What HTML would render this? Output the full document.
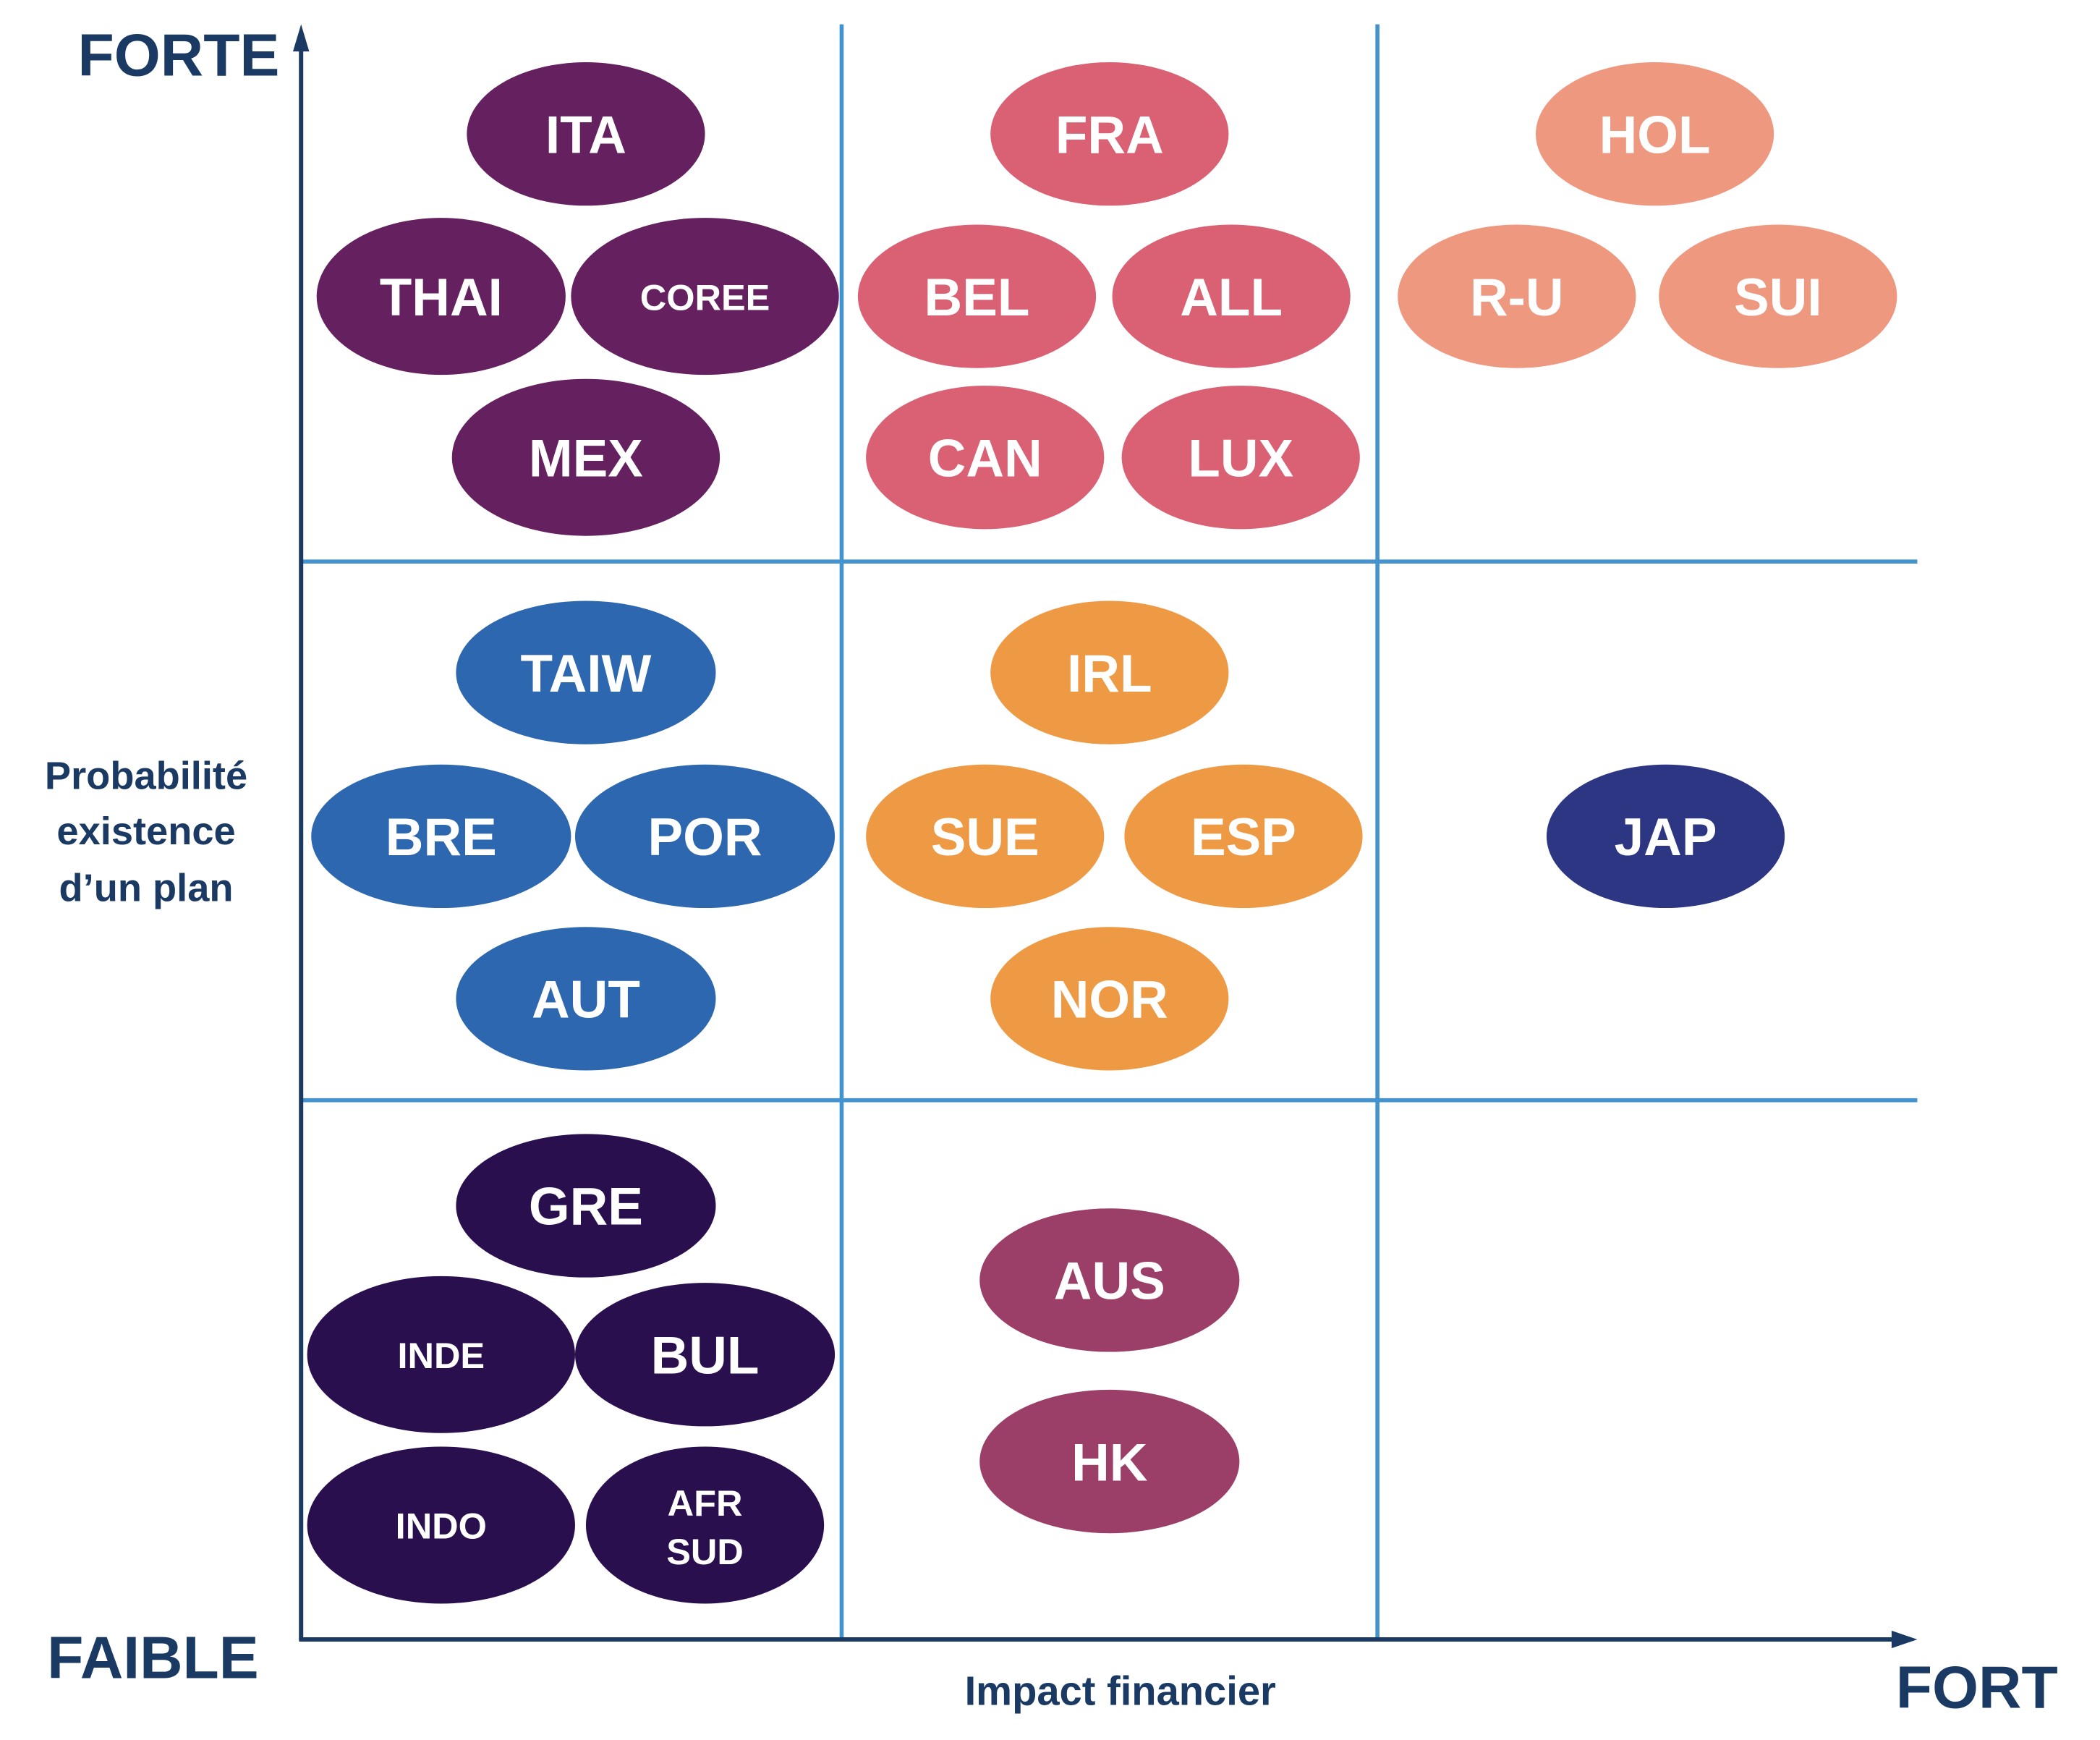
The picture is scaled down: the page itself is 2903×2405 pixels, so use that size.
<!DOCTYPE html>
<html><head><meta charset="utf-8"><style>
html,body{margin:0;padding:0;background:#fff;}
svg{display:block;}
text{font-family:"Liberation Sans",Arial,sans-serif;}
.w{fill:#fff;font-weight:bold;text-anchor:middle;}
.b{font-size:39px;}
.s{font-size:27px;}
.n{fill:#1a3a63;}
</style></head><body>
<svg width="2903" height="2405" viewBox="0 0 1552 1285.8" xmlns="http://www.w3.org/2000/svg">
<g stroke="#4393cf" stroke-width="3">
<line x1="622" y1="18" x2="622" y2="1212"/>
<line x1="1018" y1="18" x2="1018" y2="1212"/>
<line x1="223" y1="415" x2="1417" y2="415"/>
<line x1="223" y1="813" x2="1417" y2="813"/>
</g>
<g stroke="#1a3a63" stroke-width="3.2">
<line x1="222.5" y1="28" x2="222.5" y2="1212"/>
<line x1="221" y1="1211.5" x2="1406" y2="1211.5"/>
</g>
<polygon points="222.5,18 216.5,38 228.5,38" fill="#1a3a63"/>
<polygon points="1417,1211.5 1398,1205 1398,1218" fill="#1a3a63"/>
<text class="n" x="132" y="56" font-size="44" font-weight="bold" text-anchor="middle">FORTE</text>
<text class="n" x="113" y="1240" font-size="44" font-weight="bold" text-anchor="middle">FAIBLE</text>
<text class="n" x="1461" y="1262" font-size="44" font-weight="bold" text-anchor="middle">FORT</text>
<text class="n" x="828" y="1260" font-size="30" font-weight="bold" text-anchor="middle">Impact financier</text>
<g class="n" font-size="29" font-weight="bold" text-anchor="middle">
<text x="108" y="583">Probabilité</text>
<text x="108" y="624">existence</text>
<text x="108" y="666">d’un plan</text>
</g>
<g fill="#65205f">
<ellipse cx="433" cy="99" rx="88" ry="53"/>
<ellipse cx="326" cy="219" rx="92" ry="58"/>
<ellipse cx="521" cy="219" rx="99" ry="58"/>
<ellipse cx="433" cy="338" rx="99" ry="58"/>
</g>
<g fill="#d96173">
<ellipse cx="820" cy="99" rx="88" ry="53"/>
<ellipse cx="722" cy="219" rx="88" ry="53"/>
<ellipse cx="910" cy="219" rx="88" ry="53"/>
<ellipse cx="728" cy="338" rx="88" ry="53"/>
<ellipse cx="917" cy="338" rx="88" ry="53"/>
</g>
<g fill="#ee9880">
<ellipse cx="1223" cy="99" rx="88" ry="53"/>
<ellipse cx="1121" cy="219" rx="88" ry="53"/>
<ellipse cx="1314" cy="219" rx="88" ry="53"/>
</g>
<g fill="#2d67b0">
<ellipse cx="433" cy="497" rx="96" ry="53"/>
<ellipse cx="326" cy="618" rx="96" ry="53"/>
<ellipse cx="521" cy="618" rx="96" ry="53"/>
<ellipse cx="433" cy="738" rx="96" ry="53"/>
</g>
<g fill="#ee9a45">
<ellipse cx="820" cy="497" rx="88" ry="53"/>
<ellipse cx="728" cy="618" rx="88" ry="53"/>
<ellipse cx="919" cy="618" rx="88" ry="53"/>
<ellipse cx="820" cy="738" rx="88" ry="53"/>
</g>
<ellipse cx="1231" cy="618" rx="88" ry="53" fill="#2c3683"/>
<g fill="#2a0f4f">
<ellipse cx="433" cy="891" rx="96" ry="53"/>
<ellipse cx="326" cy="1001" rx="99" ry="58"/>
<ellipse cx="521" cy="1001" rx="96" ry="53"/>
<ellipse cx="326" cy="1127" rx="99" ry="58"/>
<ellipse cx="521" cy="1127" rx="88" ry="58"/>
</g>
<g fill="#9b3f69">
<ellipse cx="820" cy="946" rx="96" ry="53"/>
<ellipse cx="820" cy="1080" rx="96" ry="53"/>
</g>
<g class="w b">
<text x="433" y="113">ITA</text>
<text x="326" y="233">THAI</text>
<text x="433" y="352">MEX</text>
<text x="820" y="113">FRA</text>
<text x="722" y="233">BEL</text>
<text x="910" y="233">ALL</text>
<text x="728" y="352">CAN</text>
<text x="917" y="352">LUX</text>
<text x="1223" y="113">HOL</text>
<text x="1121" y="233">R-U</text>
<text x="1314" y="233">SUI</text>
<text x="433" y="511">TAIW</text>
<text x="326" y="632">BRE</text>
<text x="521" y="632">POR</text>
<text x="433" y="752">AUT</text>
<text x="820" y="511">IRL</text>
<text x="728" y="632">SUE</text>
<text x="919" y="632">ESP</text>
<text x="820" y="752">NOR</text>
<text x="1231" y="632">JAP</text>
<text x="433" y="905">GRE</text>
<text x="521" y="1015">BUL</text>
<text x="820" y="960">AUS</text>
<text x="820" y="1094">HK</text>
</g>
<g class="w s">
<text x="521" y="229">COREE</text>
<text x="326" y="1011">INDE</text>
<text x="326" y="1137">INDO</text>
<text x="521" y="1120">AFR</text>
<text x="521" y="1156">SUD</text>
</g>
</svg>
</body></html>
